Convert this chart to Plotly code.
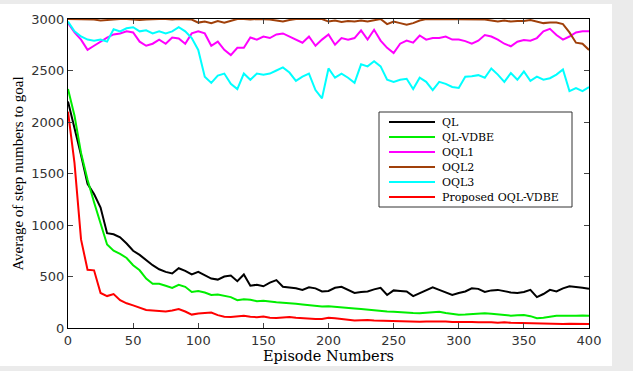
import plotly.graph_objects as go

episodes = list(range(0, 401, 5))

ql = [2200, 1950, 1680, 1400, 1300, 1170, 920, 910, 880, 820,
      750, 710, 660, 610, 570, 545, 530, 580, 555, 520,
      545, 510, 480, 470, 500, 510, 455, 520, 410, 420,
      405, 440, 465, 400, 395, 385, 370, 395, 385, 355,
      360, 390, 400, 370, 340, 350, 355, 375, 390, 320,
      365, 360, 355, 310, 340, 370, 395, 370, 345, 320,
      340, 355, 385, 380, 350, 365, 370, 355, 345, 340,
      350, 370, 300, 330, 370, 355, 385, 405, 400, 390, 380]

ql_vdbe = [2320, 2060, 1700, 1440, 1220, 1020, 810, 750, 720, 680,
           610, 560, 480, 430, 430, 410, 390, 420, 400, 350,
           360, 345, 320, 325, 315, 300, 270, 280, 275, 260,
           265, 255, 250, 245, 243, 235, 228, 222, 215, 208,
           212, 205, 200, 195, 190, 185, 178, 175, 168, 160,
           158, 152, 150, 145, 143, 148, 155, 158, 145, 135,
           128, 130, 135, 140, 143, 138, 130, 125, 120, 125,
           127, 115, 95, 100, 110, 118, 120, 118, 120, 122, 120]

oql1 = [2960, 2870, 2800, 2700, 2740, 2780, 2820, 2850, 2860, 2880,
        2870, 2780, 2740, 2760, 2800, 2760, 2820, 2810, 2760, 2860,
        2880, 2860, 2740, 2780, 2700, 2650, 2720, 2720, 2820, 2800,
        2830, 2815, 2850, 2860, 2830, 2800, 2770, 2830, 2740, 2800,
        2850, 2750, 2815, 2800, 2815, 2890, 2800, 2895, 2790, 2720,
        2670, 2760, 2790, 2770, 2840, 2800, 2815, 2815, 2830, 2800,
        2800, 2785, 2760, 2790, 2845, 2830, 2800, 2760, 2735, 2780,
        2795, 2790, 2815, 2880, 2905, 2845, 2800, 2830, 2870, 2880, 2880]

oql2 = [3000, 3000, 2995, 3000, 2995, 2985, 2990, 3000, 3000, 3000,
        2995, 2990, 2995, 3000, 3000, 3000, 2995, 3000, 3000, 2995,
        2965, 2975, 2960, 2980, 2965, 2985, 3000, 3000, 2995, 3000,
        3000, 2995, 2985, 2975, 2990, 3000, 3000, 3000, 2995, 3000,
        2975, 2985, 2970, 2980, 2975, 2985, 2975, 2990, 3000, 2950,
        2975, 2960, 2945, 2960, 2985, 3000, 3000, 3000, 3000, 3000,
        3000, 3000, 3000, 3000, 2995, 2985, 2975, 2985, 2975, 2980,
        2980, 2990, 2975, 2960, 2965, 2965, 2950, 2870, 2770, 2760, 2700]

oql3 = [2975, 2880, 2830, 2800, 2790, 2800, 2780, 2900, 2880, 2910,
        2920, 2880, 2890, 2860, 2880, 2860, 2880, 2920, 2880, 2815,
        2700, 2440, 2380, 2450, 2470, 2370, 2320, 2470, 2410, 2470,
        2460, 2470, 2500, 2530, 2480, 2400, 2440, 2470, 2310, 2230,
        2520, 2430, 2470, 2430, 2380, 2560, 2540, 2590, 2540, 2410,
        2390, 2410, 2420, 2320, 2430, 2390, 2310, 2390, 2370, 2340,
        2330, 2440, 2445, 2455, 2430, 2520, 2460, 2390, 2475, 2410,
        2490, 2400, 2440, 2410, 2425, 2460, 2510, 2300, 2330, 2300, 2340]

proposed = [2100, 1600, 860, 565, 560, 340, 310, 330, 270, 240,
            220, 200, 175, 170, 165, 160, 170, 185, 160, 130,
            140, 145, 150, 125, 110, 108, 115, 120, 110, 105,
            112, 100, 97, 100, 107, 100, 95, 92, 88, 88,
            100, 95, 85, 78, 72, 75, 78, 72, 70, 72,
            65, 62, 63, 65, 60, 62, 64, 60, 62, 58,
            60, 62, 58, 55, 57, 55, 52, 55, 50, 48,
            50, 45, 42, 45, 44, 42, 40, 42, 40, 38, 38]

series_names = ["QL", "QL-VDBE", "OQL1", "OQL2", "OQL3", "Proposed OQL-VDBE"]
series_values = [ql, ql_vdbe, oql1, oql2, oql3, proposed]
series_colors = ["#000000", "#00ee00", "#ff00ff", "#a0400a", "#00ffff", "#ff0000"]

x_ticks = [0, 50, 100, 150, 200, 250, 300, 350, 400]
y_ticks = [0, 500, 1000, 1500, 2000, 2500, 3000]

fig = go.Figure()
for name, vals, color in zip(series_names, series_values, series_colors):
    fig.add_trace(go.Scatter(x=episodes, y=vals, mode="lines", name=name,
                             line=dict(color=color, width=2)))

serif = "Liberation Serif, Times New Roman, serif"
wide_serif = "DejaVu Serif, serif"
sans = "DejaVu Sans, Arial, sans-serif"

# plot area in pixels: x 68..589, y 19..328
W_L, W_R, H_T, H_B = 68, 589, 19, 328
def px(xp):
    return (xp - W_L) / (W_R - W_L)
def py(yp):
    return (H_B - yp) / (H_B - H_T)

shapes = [dict(type="rect", xref="paper", yref="paper",
               x0=px(0), x1=px(612), y0=py(366), y1=py(4),
               fillcolor="white", line=dict(width=0), layer="below")]
# manual legend box
shapes.append(dict(type="rect", xref="paper", yref="paper",
                   x0=px(379), x1=px(572), y0=py(207), y1=py(112),
                   fillcolor="white", line=dict(color="#333333", width=1),
                   layer="above"))
annotations = []
for i, (name, color) in enumerate(zip(series_names, series_colors)):
    yy = 122 + 15 * i
    shapes.append(dict(type="line", xref="paper", yref="paper",
                       x0=px(389), x1=px(435), y0=py(yy), y1=py(yy),
                       line=dict(color=color, width=2), layer="above"))
    annotations.append(dict(text=name, xref="paper", yref="paper",
                            x=px(440), y=py(yy), xanchor="left", yanchor="middle",
                            showarrow=False,
                            font=dict(family=wide_serif, size=11, color="#000000")))

fig.update_layout(
    width=633, height=371,
    margin=dict(l=W_L, r=633 - W_R, t=H_T, b=371 - H_B),
    paper_bgcolor="#ebebeb",
    plot_bgcolor="white",
    showlegend=False,
    shapes=shapes,
    annotations=annotations,
)
fig.update_xaxes(range=[0, 400], tickvals=x_ticks, ticks="inside", ticklen=5,
                 showline=True, linecolor="black", linewidth=1, mirror="ticks",
                 showgrid=False, zeroline=False,
                 tickfont=dict(family=sans, size=13, color="#333333"),
                 title=dict(text="Episode Numbers", standoff=2,
                            font=dict(family=wide_serif, size=14.5, color="#000000")))
fig.update_yaxes(range=[0, 3000], tickvals=y_ticks, ticks="inside", ticklen=5,
                 showline=True, linecolor="black", linewidth=1, mirror="ticks",
                 showgrid=False, zeroline=False,
                 tickfont=dict(family=sans, size=13, color="#333333"),
                 title=dict(text="Average of step numbers to goal", standoff=4,
                            font=dict(family=serif, size=15, color="#000000")))

fig.write_html("out.html")
